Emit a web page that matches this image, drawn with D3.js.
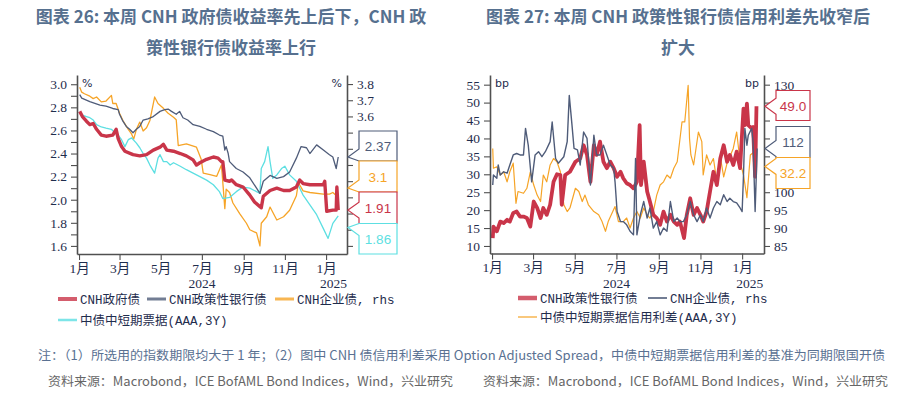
<!DOCTYPE html>
<html>
<head>
<meta charset="utf-8">
<script src="https://cdn.jsdelivr.net/npm/d3@7"></script>
<style>
  body { margin: 0; background: #fff; }
  text { font-family: "Noto Sans CJK SC", "Noto Sans", sans-serif; }
</style>
</head>
<body>
<div id="chart"></div>
<script>
// ---------- data ----------
// chart 26, left axis (%)
var cnhGov = [["2024-01-02",2.765],["2024-01-06",2.72],["2024-01-12",2.68],["2024-01-17",2.65],["2024-01-22",2.66],["2024-01-27",2.61],["2024-02-03",2.56],["2024-02-10",2.55],["2024-02-20",2.56],["2024-02-25",2.61],["2024-02-28",2.53],["2024-03-04",2.46],["2024-03-09",2.42],["2024-03-21",2.39],["2024-03-31",2.38],["2024-04-10",2.39],["2024-04-20",2.43],["2024-04-30",2.455],["2024-05-05",2.48],["2024-05-10",2.43],["2024-05-20",2.42],["2024-05-30",2.40],["2024-06-08",2.38],["2024-06-18",2.345],["2024-06-23",2.30],["2024-06-28",2.32],["2024-07-08",2.35],["2024-07-18",2.37],["2024-07-25",2.36],["2024-07-30",2.33],["2024-08-01",2.33],["2024-08-04",2.17],["2024-08-11",2.16],["2024-08-14",2.17],["2024-08-21",2.13],["2024-08-31",2.11],["2024-09-10",2.04],["2024-09-17",1.98],["2024-09-25",1.94],["2024-09-27",1.93],["2024-09-30",2.03],["2024-10-10",2.08],["2024-10-20",2.10],["2024-10-30",2.08],["2024-11-08",2.08],["2024-11-18",2.11],["2024-11-23",2.17],["2024-11-28",2.14],["2024-12-08",2.13],["2024-12-18",2.13],["2024-12-28",2.13],["2024-12-30",2.16],["2025-01-02",1.90],["2025-01-11",1.91],["2025-01-16",1.91],["2025-01-17",2.11],["2025-01-19",1.91]];
var cnhPolicy = [["2024-01-02",2.91],["2024-01-05",2.88],["2024-01-17",2.85],["2024-02-01",2.82],["2024-02-10",2.81],["2024-02-20",2.79],["2024-02-28",2.78],["2024-03-01",2.74],["2024-03-06",2.68],["2024-03-11",2.635],["2024-03-16",2.61],["2024-03-21",2.58],["2024-03-26",2.61],["2024-03-31",2.635],["2024-04-05",2.69],["2024-04-12",2.70],["2024-04-20",2.72],["2024-04-30",2.765],["2024-05-07",2.78],["2024-05-12",2.785],["2024-05-17",2.765],["2024-05-24",2.74],["2024-05-29",2.765],["2024-06-03",2.71],["2024-06-10",2.69],["2024-06-18",2.65],["2024-06-28",2.635],["2024-07-08",2.61],["2024-07-18",2.59],["2024-07-27",2.56],["2024-08-01",2.55],["2024-08-04",2.43],["2024-08-06",2.46],["2024-08-09",2.40],["2024-08-11",2.33],["2024-08-21",2.27],["2024-08-31",2.24],["2024-09-10",2.19],["2024-09-20",2.10],["2024-09-25",2.055],["2024-09-30",2.16],["2024-10-10",2.21],["2024-10-20",2.185],["2024-10-30",2.20],["2024-11-08",2.24],["2024-11-18",2.36],["2024-11-25",2.46],["2024-12-03",2.45],["2024-12-08",2.40],["2024-12-18",2.475],["2024-12-28",2.43],["2025-01-06",2.39],["2025-01-11",2.37],["2025-01-16",2.27],["2025-01-19",2.37]];
var cnhMtn = [["2024-01-02",2.75],["2024-01-05",2.735],["2024-01-12",2.72],["2024-01-17",2.71],["2024-01-22",2.69],["2024-01-27",2.65],["2024-02-03",2.63],["2024-02-10",2.62],["2024-02-18",2.61],["2024-02-23",2.58],["2024-02-28",2.56],["2024-03-04",2.52],["2024-03-09",2.46],["2024-03-14",2.52],["2024-03-19",2.535],["2024-03-26",2.49],["2024-03-31",2.45],["2024-04-05",2.40],["2024-04-10",2.36],["2024-04-15",2.30],["2024-04-22",2.23],["2024-04-27",2.36],["2024-04-30",2.39],["2024-05-05",2.33],["2024-05-10",2.33],["2024-05-15",2.30],["2024-05-20",2.32],["2024-05-30",2.29],["2024-06-08",2.26],["2024-06-18",2.23],["2024-06-28",2.20],["2024-07-08",2.17],["2024-07-18",2.13],["2024-07-27",2.07],["2024-08-01",2.01],["2024-08-11",2.02],["2024-08-21",2.07],["2024-08-31",2.11],["2024-09-10",2.10],["2024-09-20",2.07],["2024-09-25",2.055],["2024-09-27",2.27],["2024-10-02",2.33],["2024-10-07",2.46],["2024-10-10",2.33],["2024-10-14",2.185],["2024-10-20",2.215],["2024-10-27",2.27],["2024-11-01",2.29],["2024-11-08",2.215],["2024-11-18",2.16],["2024-11-28",2.04],["2024-12-08",1.955],["2024-12-18",1.87],["2024-12-28",1.75],["2025-01-04",1.665],["2025-01-11",1.795],["2025-01-19",1.86]];
// chart 26, right axis (%)
var cnhCorp = [["2024-01-02",3.78],["2024-01-05",3.75],["2024-01-09",3.74],["2024-01-17",3.725],["2024-01-22",3.71],["2024-01-27",3.72],["2024-02-03",3.69],["2024-02-10",3.695],["2024-02-18",3.73],["2024-02-20",3.68],["2024-02-25",3.68],["2024-03-01",3.62],["2024-03-06",3.575],["2024-03-14",3.52],["2024-03-19",3.49],["2024-03-22",3.46],["2024-03-26",3.52],["2024-03-31",3.565],["2024-04-05",3.51],["2024-04-10",3.53],["2024-04-15",3.575],["2024-04-22",3.72],["2024-04-27",3.68],["2024-05-05",3.65],["2024-05-12",3.62],["2024-05-20",3.595],["2024-05-24",3.58],["2024-05-27",3.42],["2024-06-08",3.43],["2024-06-23",3.41],["2024-06-30",3.335],["2024-07-03",3.25],["2024-07-13",3.24],["2024-07-23",3.23],["2024-07-30",3.30],["2024-08-02",3.14],["2024-08-04",3.03],["2024-08-06",3.15],["2024-08-11",3.13],["2024-08-16",3.065],["2024-08-26",3.00],["2024-09-05",2.94],["2024-09-10",2.90],["2024-09-20",2.88],["2024-09-25",2.80],["2024-09-27",2.94],["2024-10-05",2.98],["2024-10-10",3.04],["2024-10-20",2.96],["2024-10-30",2.98],["2024-11-08",3.02],["2024-11-18",3.11],["2024-11-21",3.19],["2024-11-28",3.14],["2024-12-08",3.13],["2024-12-28",3.12],["2025-01-06",3.12],["2025-01-11",3.13],["2025-01-19",3.10]];

// chart 27, left axis (bp)
var policySpread = [["2024-01-02",12.2],["2024-01-03",15.4],["2024-01-08",14.1],["2024-01-13",16.8],["2024-01-18",16.4],["2024-01-23",17.3],["2024-01-27",16.8],["2024-02-01",19.2],["2024-02-06",19.6],["2024-02-11",18.2],["2024-02-16",18.2],["2024-02-21",17.8],["2024-02-26",15.4],["2024-03-02",22.4],["2024-03-07",20.6],["2024-03-12",17.8],["2024-03-16",20.6],["2024-03-21",18.7],["2024-03-26",21.5],["2024-03-31",27.9],["2024-04-05",30.0],["2024-04-10",29.8],["2024-04-12",21.5],["2024-04-17",29.8],["2024-04-24",30.7],["2024-05-02",33.5],["2024-05-09",34.4],["2024-05-14",38.1],["2024-05-19",35.4],["2024-05-24",27.9],["2024-05-29",38.1],["2024-06-02",35.4],["2024-06-07",39.1],["2024-06-12",33.5],["2024-06-17",31.7],["2024-06-22",33.5],["2024-06-27",31.7],["2024-07-02",29.3],["2024-07-07",30.7],["2024-07-11",28.9],["2024-07-16",27.5],["2024-07-21",27.0],["2024-07-26",26.1],["2024-07-31",27.9],["2024-08-04",43.7],["2024-08-06",27.0],["2024-08-10",33.5],["2024-08-15",25.2],["2024-08-19",22.4],["2024-08-24",18.7],["2024-08-29",17.8],["2024-09-03",15.9],["2024-09-08",19.6],["2024-09-13",16.8],["2024-09-18",18.7],["2024-09-23",16.8],["2024-09-28",15.9],["2024-10-02",16.8],["2024-10-08",12.2],["2024-10-12",18.7],["2024-10-17",23.3],["2024-10-22",18.7],["2024-10-27",20.6],["2024-11-01",18.7],["2024-11-05",16.8],["2024-11-10",19.6],["2024-11-15",25.2],["2024-11-20",30.7],["2024-11-25",27.0],["2024-11-30",34.4],["2024-12-05",38.1],["2024-12-10",33.5],["2024-12-14",35.4],["2024-12-19",32.6],["2024-12-24",36.3],["2024-12-29",31.7],["2025-01-03",48.3],["2025-01-05",43.7],["2025-01-08",49.7],["2025-01-10",43.7],["2025-01-15",42.8],["2025-01-17",43.2],["2025-01-20",29.3],["2025-01-22",49.0]];
var mtnSpread = [["2024-01-02",37.2],["2024-01-03",31.7],["2024-01-08",32.1],["2024-01-13",29.8],["2024-01-18",30.7],["2024-01-23",27.9],["2024-01-27",30.7],["2024-02-01",33.1],["2024-02-05",21.9],["2024-02-08",25.2],["2024-02-16",24.7],["2024-02-21",26.1],["2024-02-26",30.7],["2024-03-02",27.0],["2024-03-07",24.2],["2024-03-12",22.4],["2024-03-16",29.8],["2024-03-21",27.9],["2024-03-26",32.6],["2024-03-31",34.4],["2024-04-05",33.5],["2024-04-10",30.7],["2024-04-15",21.5],["2024-04-20",19.6],["2024-04-24",20.6],["2024-05-02",26.1],["2024-05-07",25.2],["2024-05-12",22.4],["2024-05-16",24.2],["2024-05-21",21.5],["2024-05-29",19.6],["2024-06-05",18.7],["2024-06-10",16.8],["2024-06-15",14.1],["2024-06-19",16.8],["2024-06-29",21.0],["2024-07-04",16.8],["2024-07-11",16.8],["2024-07-16",17.8],["2024-07-21",15.0],["2024-07-26",17.8],["2024-07-31",19.6],["2024-08-05",17.8],["2024-08-10",20.6],["2024-08-15",18.7],["2024-08-19",17.8],["2024-08-24",19.6],["2024-08-29",24.2],["2024-09-03",27.0],["2024-09-08",27.9],["2024-09-13",29.8],["2024-09-18",28.9],["2024-09-23",31.7],["2024-09-28",33.5],["2024-10-05",44.6],["2024-10-09",44.6],["2024-10-14",54.8],["2024-10-16",40.0],["2024-10-18",35.4],["2024-10-22",32.6],["2024-10-29",41.8],["2024-11-03",39.1],["2024-11-05",29.8],["2024-11-10",35.4],["2024-11-15",32.6],["2024-11-20",34.4],["2024-11-25",27.9],["2024-11-30",34.9],["2024-12-05",29.3],["2024-12-10",33.1],["2024-12-19",37.2],["2024-12-24",41.8],["2024-12-29",33.5],["2025-01-03",29.8],["2025-01-08",23.5],["2025-01-13",35.4],["2025-01-17",36.0],["2025-01-22",32.2]];
// chart 27, right axis (bp)
var corpSpread = [["2024-01-02",102.0],["2024-01-03",104.8],["2024-01-08",103.9],["2024-01-10",107.6],["2024-01-13",104.8],["2024-01-18",105.7],["2024-01-23",105.3],["2024-01-27",107.6],["2024-02-01",110.4],["2024-02-06",110.8],["2024-02-11",110.4],["2024-02-16",110.4],["2024-02-19",117.8],["2024-02-23",113.1],["2024-02-28",102.9],["2024-03-04",110.4],["2024-03-09",111.3],["2024-03-14",109.9],["2024-03-19",111.3],["2024-03-26",114.1],["2024-03-29",119.6],["2024-04-03",109.4],["2024-04-07",108.1],["2024-04-15",109.9],["2024-04-20",114.1],["2024-04-23",127.0],["2024-04-27",118.7],["2024-04-30",112.2],["2024-05-05",111.8],["2024-05-09",107.6],["2024-05-14",116.8],["2024-05-19",115.0],["2024-05-24",102.0],["2024-05-29",115.9],["2024-06-02",110.4],["2024-06-07",110.4],["2024-06-12",113.1],["2024-06-17",110.4],["2024-06-22",107.6],["2024-06-27",106.7],["2024-06-29",102.9],["2024-07-02",94.6],["2024-07-07",91.8],["2024-07-11",91.8],["2024-07-16",90.9],["2024-07-21",89.1],["2024-07-26",88.1],["2024-07-29",109.4],["2024-07-31",88.1],["2024-08-05",93.7],["2024-08-10",97.4],["2024-08-15",92.8],["2024-08-19",95.6],["2024-08-24",90.0],["2024-08-29",91.8],["2024-09-03",88.1],["2024-09-08",90.0],["2024-09-13",89.1],["2024-09-18",97.4],["2024-09-23",91.8],["2024-09-28",92.8],["2024-10-02",91.8],["2024-10-07",91.8],["2024-10-12",93.7],["2024-10-17",97.4],["2024-10-22",93.7],["2024-10-27",91.8],["2024-11-01",93.7],["2024-11-05",91.8],["2024-11-10",95.6],["2024-11-15",92.8],["2024-11-20",95.6],["2024-11-25",97.4],["2024-11-30",96.5],["2024-12-05",99.3],["2024-12-10",97.4],["2024-12-14",98.3],["2024-12-19",97.4],["2024-12-24",97.0],["2024-12-29",95.6],["2025-01-01",94.6],["2025-01-03",104.8],["2025-01-05",117.8],["2025-01-08",113.1],["2025-01-10",115.9],["2025-01-15",117.8],["2025-01-17",114.1],["2025-01-20",94.6],["2025-01-23",112.2]];

// ticks / labels
var monthTicks = ["2024-01-01","2024-03-01","2024-05-01","2024-07-01","2024-09-01","2024-11-01","2025-01-01"];
var monthLabels = ["1月","3月","5月","7月","9月","11月","1月"];
var yearTicks = ["2024-07-01","2025-01-12"];
var yearLabels = ["2024","2025"];
var yieldLeftTicks = [1.6,1.7,1.8,1.9,2.0,2.1,2.2,2.3,2.4,2.5,2.6,2.7,2.8,2.9,3.0];
var yieldLeftLabels = [1.6,1.8,2.0,2.2,2.4,2.6,2.8,3.0];
var yieldRightTicks = [2.8,2.9,3.0,3.1,3.2,3.3,3.4,3.5,3.6,3.7,3.8];
var spreadLeftTicks = [10,15,20,25,30,35,40,45,50,55];
var spreadRightTicks = [85,90,95,100,105,110,115,120,125,130];

// ---------- drawing ----------
var W = 923, H = 394;
var parse = d3.timeParse("%Y-%m-%d");
var ink = "#1f2d4d", axisCol = "#505050";
var RED = "#c93549", NAVY = "#4f5c79", ORANGE = "#f6a427", CYAN = "#5ddfe2";

var svg = d3.select("#chart").append("svg")
    .attr("width", W).attr("height", H);

function drawPanel(p) {
  var g = svg.append("g");
  var x = d3.scaleTime().domain(p.xDomain.map(parse)).range([p.left, p.right]);
  var yL = d3.scaleLinear().domain(p.leftDomain).range([p.bottom, p.top]);
  var yR = d3.scaleLinear().domain(p.rightDomain).range([p.bottom, p.top]);
  var sc = {left: yL, right: yR};

  // lines
  p.series.forEach(function(s) {
    g.append("path").datum(s.data)
      .attr("fill", "none")
      .attr("stroke", s.color)
      .attr("stroke-width", s.width)
      .attr("stroke-linejoin", "round")
      .attr("d", d3.line()
        .x(function(d) { return x(parse(d[0])); })
        .y(function(d) { return sc[s.axis](d[1]); }));
  });

  function style(ax) {
    ax.select(".domain").attr("stroke", axisCol).attr("stroke-width", 1.6);
    ax.selectAll(".tick line").attr("stroke", axisCol).attr("stroke-width", 1.1);
    ax.selectAll(".tick text").attr("fill", ink)
      .style("font-family", "'Liberation Serif', 'Noto Sans CJK SC', serif")
      .style("font-size", "13.5px");
  }

  // left axis
  var axL = g.append("g").attr("transform", "translate(" + p.left + ",0)")
    .call(d3.axisLeft(yL).tickValues(p.leftTicks).tickSize(6).tickSizeOuter(0).tickPadding(4)
      .tickFormat(function(d) { return p.leftLabels.indexOf(d) >= 0 ? p.leftFmt(d) : ""; }));
  style(axL);

  // bottom axis
  var axB = g.append("g").attr("transform", "translate(0," + p.bottom + ")")
    .call(d3.axisBottom(x).tickValues(monthTicks.map(parse)).tickSize(6).tickSizeOuter(0).tickPadding(3)
      .tickFormat(function(d, i) { return monthLabels[i]; }));
  style(axB);

  g.selectAll(".year").data(yearTicks).enter().append("text")
    .attr("x", function(d) { return x(parse(d)); })
    .attr("y", p.bottom + 34)
    .attr("text-anchor", "middle")
    .attr("fill", ink)
    .style("font-family", "'Liberation Serif', serif")
    .style("font-size", "13.5px")
    .text(function(d, i) { return yearLabels[i]; });

  // unit labels
  g.append("text").attr("x", p.left + 5).attr("y", p.top + 12).attr("fill", ink)
    .style("font-size", "11px").style("font-family", "'DejaVu Sans', sans-serif").text(p.unit);
  g.append("text").attr("x", p.right - 5).attr("y", p.top + 12).attr("text-anchor", "end").attr("fill", ink)
    .style("font-size", "11px").style("font-family", "'DejaVu Sans', sans-serif").text(p.unit);

  // right axis; labels sitting under the value boxes are not shown
  var boxTop = d3.min(p.callouts, function(c) { return c.top; });
  var boxBottom = d3.max(p.callouts, function(c) { return c.top + c.h; });
  var axR = g.append("g").attr("transform", "translate(" + p.right + ",0)")
    .call(d3.axisRight(yR).tickValues(p.rightTicks).tickSize(6).tickSizeOuter(0).tickPadding(4)
      .tickFormat(function(d) {
        var py = yR(d);
        return (py > boxTop - 5 && py < boxBottom + 2) ? "" : p.rightFmt(d);
      }));
  style(axR);

  // value callouts
  p.callouts.forEach(function(c) {
    var s = p.series[c.series];
    var last = s.data[s.data.length - 1][1];
    var bx = p.right + 12, by = c.top, bw = c.w, bh = c.h;
    var ty = Math.max(by + 4, Math.min(by + bh - 4, sc[s.axis](last)));
    var tx = p.right + 1;
    var a1 = Math.max(by, ty - 8), a2 = Math.min(by + bh, ty + 8);
    g.append("path")
      .attr("d", "M" + bx + "," + by + "H" + (bx + bw) + "V" + (by + bh) + "H" + bx +
                 "V" + a2 + "L" + tx + "," + ty + "L" + bx + "," + a1 + "Z")
      .attr("fill", "#fff").attr("stroke", s.color).attr("stroke-width", 1.2);
    g.append("text")
      .attr("x", bx + bw / 2).attr("y", by + bh / 2 + 5)
      .attr("text-anchor", "middle").attr("fill", s.color)
      .style("font-family", "'Liberation Sans', sans-serif").style("font-size", "13.5px")
      .text(d3.format(c.fmt)(last));
  });

  // legend
  p.legend.forEach(function(l) {
    var s = p.series[l.series];
    g.append("line").attr("x1", l.x).attr("x2", l.x + 19).attr("y1", l.y).attr("y2", l.y)
      .attr("stroke", s.color).attr("stroke-width", l.w).attr("stroke-opacity", 0.8);
    g.append("text").attr("x", l.x + 22).attr("y", l.y + 4.5).attr("fill", ink)
      .style("font-family", "'Liberation Mono', 'Noto Sans CJK SC', monospace")
      .style("font-size", "12.5px")
      .text(s.name);
  });

  // title
  p.title.forEach(function(t, i) {
    svg.append("text").attr("x", p.titleX).attr("y", 23 + i * 31)
      .attr("text-anchor", "middle").attr("fill", "#56708f")
      .style("font-size", "17px").style("font-weight", "bold")
      .text(t);
  });
}

drawPanel({
  title: ["图表 26: 本周 CNH 政府债收益率先上后下，CNH 政", "策性银行债收益率上行"],
  titleX: 231,
  left: 77, right: 347, top: 75, bottom: 254,
  xDomain: ["2023-12-29", "2025-02-01"],
  leftDomain: [1.53, 3.08], rightDomain: [2.75, 3.856],
  leftTicks: yieldLeftTicks, leftLabels: yieldLeftLabels, leftFmt: d3.format(".1f"),
  rightTicks: yieldRightTicks, rightFmt: d3.format(".1f"),
  unit: "%",
  series: [
    {name: "CNH企业债, rhs", data: cnhCorp, axis: "right", color: ORANGE, width: 1.3},
    {name: "中债中短期票据(AAA,3Y)", data: cnhMtn, axis: "left", color: CYAN, width: 1.3},
    {name: "CNH政策性银行债", data: cnhPolicy, axis: "left", color: NAVY, width: 1.3},
    {name: "CNH政府债", data: cnhGov, axis: "left", color: RED, width: 3.4}
  ],
  callouts: [
    {series: 2, top: 131, h: 30, w: 38, fmt: ".2~f"},
    {series: 0, top: 161, h: 31, w: 38, fmt: ".2~f"},
    {series: 3, top: 192, h: 31.5, w: 38, fmt: ".2~f"},
    {series: 1, top: 223.5, h: 30.5, w: 38, fmt: ".2~f"}
  ],
  legend: [
    {series: 3, x: 58, y: 299, w: 4},
    {series: 2, x: 147, y: 299, w: 3},
    {series: 0, x: 275, y: 299, w: 3},
    {series: 1, x: 58, y: 320, w: 2.5}
  ]
});

drawPanel({
  title: ["图表 27: 本周 CNH 政策性银行债信用利差先收窄后", "扩大"],
  titleX: 678,
  left: 490, right: 764, top: 75, bottom: 253.5,
  xDomain: ["2023-12-29", "2025-02-02"],
  leftDomain: [7.9, 57.7], rightDomain: [82.9, 132.7],
  leftTicks: spreadLeftTicks, leftLabels: spreadLeftTicks, leftFmt: d3.format("d"),
  rightTicks: spreadRightTicks, rightFmt: d3.format("d"),
  unit: "bp",
  series: [
    {name: "中债中短期票据信用利差(AAA,3Y)", data: mtnSpread, axis: "left", color: ORANGE, width: 1.2},
    {name: "CNH政策性银行债", data: policySpread, axis: "left", color: RED, width: 3.8},
    {name: "CNH企业债, rhs", data: corpSpread, axis: "right", color: NAVY, width: 1.4}
  ],
  callouts: [
    {series: 1, top: 90.5, h: 30, w: 34, fmt: ".1f"},
    {series: 2, top: 126.5, h: 31, w: 34, fmt: ".0f"},
    {series: 0, top: 157.5, h: 31, w: 34, fmt: ".1f"}
  ],
  legend: [
    {series: 1, x: 518, y: 298, w: 4.5},
    {series: 2, x: 648, y: 298, w: 2},
    {series: 0, x: 518, y: 317, w: 1.5}
  ]
});

// notes
svg.append("text").attr("x", 38).attr("y", 360).attr("fill", "#5a7192")
  .attr("textLength", 847).attr("lengthAdjust", "spacingAndGlyphs")
  .style("font-size", "12.5px")
  .text("注：（1）所选用的指数期限均大于 1 年；（2）图中 CNH 债信用利差采用 Option Adjusted Spread，中债中短期票据信用利差的基准为同期限国开债");
[48, 483].forEach(function(x0) {
  svg.append("text").attr("x", x0).attr("y", 386).attr("fill", "#666")
    .attr("textLength", 405).attr("lengthAdjust", "spacingAndGlyphs")
    .style("font-size", "12.5px")
    .text("资料来源：Macrobond，ICE BofAML Bond Indices，Wind，兴业研究");
});
</script>
</body>
</html>
